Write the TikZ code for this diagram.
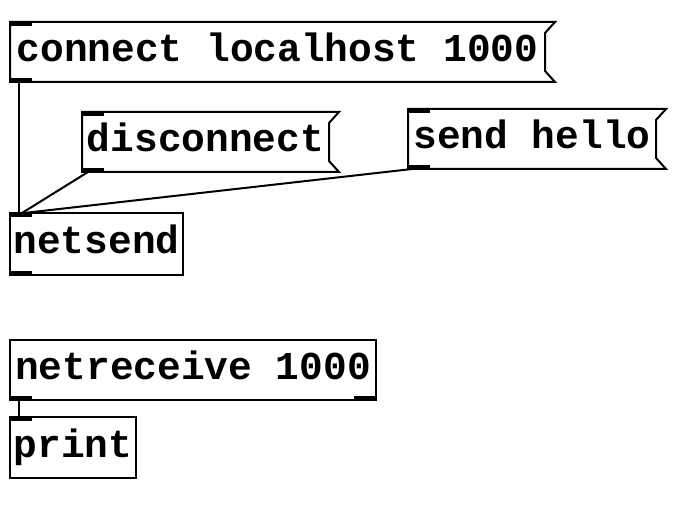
\documentclass[tikz,border=0pt]{standalone}
\usepackage{fontspec}
\newfontfamily\pdfont{Liberation Mono}
\newcommand\pdtext{\pdfont\bfseries\fontsize{39.5}{40}\selectfont}
\usetikzlibrary{positioning,calc}

\begin{document}
\begin{tikzpicture}[
    x=1pt, y=-1pt,
    obj/.style={rectangle, draw, line width=2pt, outer sep=0pt,
                inner sep=0pt, minimum height=60pt,
                text height=27pt, text depth=8pt,
                anchor=north west, font=\pdtext},
    msg/.style={obj, draw=none},
    flag/.style={line width=2pt, line join=miter},
    port/.style={fill=black},
    wire/.style={line width=2pt},
  ]
  \useasboundingbox (0,0) rectangle (690,518);

  % ===== Sending side =====
  \node[msg, minimum width=535pt] (cnct) at (10, 22) {connect localhost 1000};
  \node[msg, minimum width=247pt] (disc) at (82, 112) {disconnect};
  \node[msg, minimum width=248pt] (hello) at (408, 109) {send hello};
  \node[obj, minimum width=173pt, minimum height=62pt] (nsend) at (10, 213) {netsend};

  % message box outlines
  \draw[flag] ($(cnct.north east)+(10,0)$) -- (cnct.north west) -- (cnct.south west)
    -- ($(cnct.south east)+(10,0)$) -- ($(cnct.south east)+(0,-11)$)
    -- ($(cnct.north east)+(0,11)$) -- cycle;
  \draw[flag] ($(disc.north east)+(10,0)$) -- (disc.north west) -- (disc.south west)
    -- ($(disc.south east)+(10,0)$) -- ($(disc.south east)+(0,-11)$)
    -- ($(disc.north east)+(0,11)$) -- cycle;
  \draw[flag] ($(hello.north east)+(10,0)$) -- (hello.north west) -- (hello.south west)
    -- ($(hello.south east)+(10,0)$) -- ($(hello.south east)+(0,-11)$)
    -- ($(hello.north east)+(0,11)$) -- cycle;

  % inlets and outlets
  \fill[port] (cnct.north west) rectangle ++(22,4);
  \fill[port] (cnct.south west) rectangle ++(22,-4);
  \fill[port] (disc.north west) rectangle ++(22,4);
  \fill[port] (disc.south west) rectangle ++(22,-4);
  \fill[port] (hello.north west) rectangle ++(22,4);
  \fill[port] (hello.south west) rectangle ++(22,-4);
  \fill[port] (nsend.north west) rectangle ++(22,4);
  \fill[port] (nsend.south west) rectangle ++(22,-4);

  \draw[wire] ($(cnct.south west)+(9,0)$) -- ($(nsend.north west)+(9,0)$);
  \draw[wire] ($(disc.south west)+(6,0)$) -- ($(nsend.north west)+(12,0)$);
  \draw[wire] ($(hello.south west)+(4,0)$) -- ($(nsend.north west)+(14,0)$);

  % ===== Receiving side =====
  \node[obj, minimum width=366pt] (nrecv) at (10, 340) {netreceive 1000};
  \node[obj, minimum width=126pt, minimum height=61pt] (prnt) at (10, 417) {print};

  \fill[port] (nrecv.south west) rectangle ++(22,-4);
  \fill[port] (nrecv.south east) rectangle ++(-22,-4);
  \fill[port] (prnt.north west) rectangle ++(22,4);

  \draw[wire] ($(nrecv.south west)+(9,0)$) -- ($(prnt.north west)+(9,0)$);

\end{tikzpicture}
\end{document}
